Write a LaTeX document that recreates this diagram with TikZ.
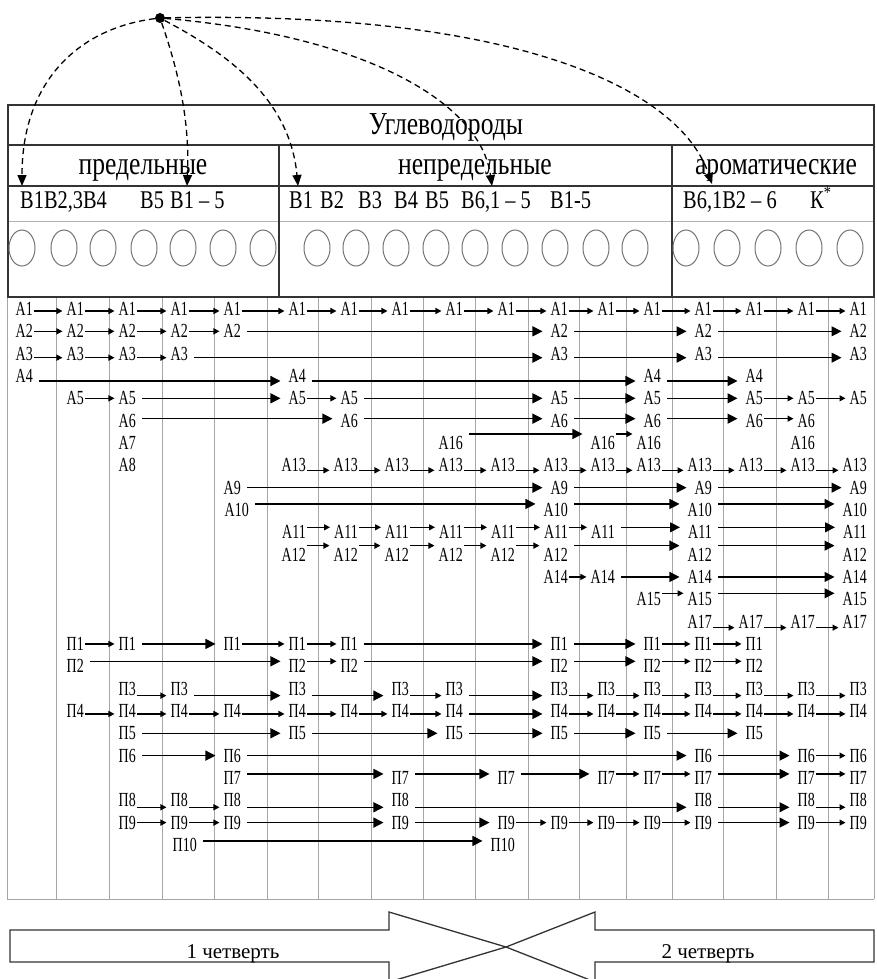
\documentclass[tikz,border=0pt]{standalone}
\usepackage{fontspec}
\setmainfont{Liberation Serif}
\newfontfamily\lblfont[FakeStretch=0.7]{Liberation Serif}
\newfontfamily\hdrfont[FakeStretch=0.8]{Liberation Serif}
\newfontfamily\bfont[FakeStretch=0.8]{Liberation Serif}
\usetikzlibrary{arrows.meta}

\def\rx{{0,33,84,136,188,241,306,358,409,463,515,568,615,661,712,763,815,867}}

\tikzset{
  lbl/.style={inner sep=0pt, font=\lblfont\fontsize{20}{20}\selectfont},
  hdr/.style={inner sep=0pt, font=\hdrfont\fontsize{32}{32}\selectfont},
  brow/.style={inner sep=0pt, anchor=base west, font=\bfont\fontsize{25.5}{25.5}\selectfont},
  qtr/.style={inner sep=0pt, anchor=base, font=\fontsize{21}{21}\selectfont},
  smallarr/.style={line width=1.2pt, -{Triangle[length=6pt,width=6pt]}, shorten <=1pt, shorten >=4pt},
  bigarr/.style={line width=1.2pt, -{Triangle[length=10pt,width=10pt]}, shorten <=6pt, shorten >=8pt},
  frame/.style={line width=1.3pt, black!80},
  gridline/.style={line width=1pt, black!35},
  circ/.style={line width=1pt, black!55},
  dasharr/.style={line width=1.3pt, dash pattern=on 6pt off 4pt, -{Triangle[length=11pt,width=9pt]}},
  bigshape/.style={line width=1.3pt, black!80, fill=white},
}

\newcommand\labrow[4]{%
  \pgfmathsetmacro\yy{309+(#1-1)*22.33}%
  \foreach \c/\xo [remember=\c as \pc (initially 0)] in {#3} {%
    \ifnum\xo=\c\relax \pgfmathsetmacro\xx{\rx[\c]}\else \edef\xx{\xo}\fi
    \node[lbl, anchor=east] (r#1c\c) at (\xx,\yy) {#2};%
    \ifnum\pc>0\relax
      \pgfmathtruncatemacro\gap{\c-\pc}%
      \ifnum\gap>1\relax
        \draw[bigarr] ([yshift=#4pt]r#1c\pc.east) -- ([yshift=#4pt]r#1c\c.west);%
      \else
        \draw[smallarr] ([yshift=#4pt]r#1c\pc.east) -- ([yshift=#4pt]r#1c\c.west);%
      \fi
    \fi
  }%
}

\begin{document}
\begin{tikzpicture}[x=1pt, y=-1pt]
\useasboundingbox (0,0) rectangle (876,979);

% ---------- grid ----------
\foreach \gx in {7,56,109,162,214,267,318,371,423,475,528,579,626,672,723,776,828,874}
  \draw[gridline] (\gx,297) -- (\gx,899);
\draw[gridline] (7,899) -- (874,899);

% ---------- header box ----------
\draw[gridline, black!30] (8,221) -- (874,221);
\draw[frame] (8,105) rectangle (874,297);
\draw[frame] (8,145) -- (874,145);
\draw[frame] (8,186) -- (874,186);
\draw[frame] (279,145) -- (279,297);
\draw[frame] (672,145) -- (672,297);

\node[hdr, anchor=base] (title) at (446,135) {Углеводороды};
\node[hdr, anchor=base] (h1) at (143,174) {предельные};
\node[hdr, anchor=base] (h2) at (475,174) {непредельные};
\node[hdr, anchor=base] (h3) at (776,174) {ароматические};

\node[brow] (b1) at (20,208) {В1В2,3В4};
\node[brow] (b2) at (140,208) {В5};
\node[brow] (b3) at (170,208) {В1 – 5};
\node[brow] (b4) at (289,208) {В1};
\node[brow] (b5) at (320,208) {В2};
\node[brow] (b6) at (358,208) {В3};
\node[brow] (b7) at (394,208) {В4};
\node[brow] (b8) at (425,208) {В5};
\node[brow] (b9) at (461,208) {В6,1 – 5};
\node[brow] (b10) at (550,208) {В1-5};
\node[brow] (b11) at (683,208) {В6,1В2 – 6};
\node[brow] (b12) at (810,208) {К\textsuperscript{*}};

\foreach \cx in {22,64,103,144,183,223,263,317,356,396,436,475,515,555,596,635,686,727,768,809,850}
  \draw[circ] (\cx,248) ellipse [x radius=13pt, y radius=18pt];

% ---------- dashed arrows from the source dot ----------
\node[circle, fill=black, inner sep=0pt, minimum size=10pt] (src) at (160,18) {};
\coordinate (t1) at (22,186);
\coordinate (t2) at (187,186);
\coordinate (t3) at (298,186);
\coordinate (t4) at (492,186);
\coordinate (t5) at (712,184);
\draw[dasharr] (src) .. controls (80,28) and (22,80) .. (t1);
\draw[dasharr] (src) .. controls (178,70) and (190,120) .. (t2);
\draw[dasharr] (src) .. controls (230,55) and (290,100) .. (t3);
\draw[dasharr] (src) .. controls (360,35) and (480,100) .. (t4);
\draw[dasharr] (src) .. controls (520,10) and (680,90) .. (t5);

% ---------- rows ----------
\labrow{1}{А1}{1,2,3,4,5,6,7,8,9,10,11,12,13,14,15,16,17}{-2}
\labrow{2}{А2}{1,2,3,4,5,11,14,17}{0}
\labrow{3}{А3}{1,2,3,4,11,14,17}{-4}
\labrow{4}{А4}{1,6,13,15}{-5}
\labrow{5}{А5}{2,3,6,7,11,13,15,16,17}{0}
\labrow{6}{А6}{3,7,11,13,15,16}{2}
\labrow{7}{А7}{3}{0}
\labrow{7}{А16}{9,12,13}{9}
\labrow{7}{А16}{16}{0}
\labrow{8}{А8}{3}{0}
\labrow{8}{А13}{6,7,8,9,10,11,12,13,14,15,16,17}{-5}
\labrow{9}{А9}{5,11,14,17}{0}
\labrow{10}{А10}{5/249,11,14,17}{6}
\labrow{11}{А11}{6,7,8,9,10,11,12,14,17}{5}
\labrow{12}{А12}{6,7,8,9,10,11,14,17}{9}
\labrow{13}{А14}{11,12,14,17}{0}
\labrow{14}{А15}{13,14,17}{6}
\labrow{15}{А17}{14,15,16,17}{-6}
\labrow{16}{П1}{2,3,5,6,7,11,13,14,15}{0}
\labrow{17}{П2}{2,6,7,11,13,14,15}{5}
\labrow{18}{П3}{3,4,6,8,9,11,12,13,14,15,16,17}{-7}
\labrow{19}{П4}{2,3,4,5,6,7,8,9,11,12,13,14,15,16,17}{-3}
\labrow{20}{П5}{3,6,9,11,13,15}{0}
\labrow{21}{П6}{3,5,14,16,17}{0}
\labrow{22}{П7}{5,8,10,12,13,14,16,17}{4}
\labrow{23}{П8}{3,4,5,8,14,16,17}{-7}
\labrow{24}{П9}{3,4,5,8,10,11,12,13,14,16,17}{0}
\labrow{25}{П10}{4/197,10}{4}

% ---------- bottom quarter arrows ----------
\draw[bigshape] (10,930) -- (389,930) -- (389,912) -- (506,947) -- (389,982) -- (389,962) -- (10,962) -- cycle;
\draw[bigshape, fill=none] (874,930) -- (595,930) -- (595,912) -- (506,947) -- (595,982) -- (595,962) -- (874,962) -- cycle;
\node[qtr] (q1) at (233,958) {1 четверть};
\node[qtr] (q2) at (708,958) {2 четверть};
\end{tikzpicture}
\end{document}
